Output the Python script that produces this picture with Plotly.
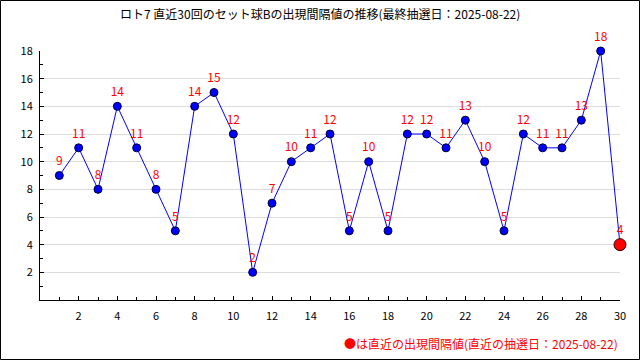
import plotly.graph_objects as go

draws = list(range(1, 31))
intervals = [9, 11, 8, 14, 11, 8, 5, 14, 15, 12, 2, 7, 10, 11, 12, 5, 10, 5, 12, 12,
             11, 13, 10, 5, 12, 11, 11, 13, 18, 4]
x_ticks = list(range(2, 31, 2))
y_ticks = list(range(2, 19, 2))
title_text = "ロト7 直近30回のセット球Bの出現間隔値の推移(最終抽選日：2025-08-22)"
note_text = "●は直近の出現間隔値(直近の抽選日：2025-08-22)"

FONT = "Noto Sans CJK JP, DejaVu Sans, sans-serif"

# plot area in pixels
L, R, T, B = 40, 620, 51, 300
W, H = 640, 360

def px(x):
    return (x - L) / (R - L)

def py(y):
    return (B - y) / (B - T)

fig = go.Figure()
fig.add_trace(go.Scatter(
    x=draws, y=intervals,
    mode="lines+markers",
    line=dict(color="#0000ff", width=1),
    marker=dict(color="#0000ff", size=8, line=dict(color="#000033", width=1)),
    cliponaxis=False,
    showlegend=False,
))
fig.add_trace(go.Scatter(
    x=[draws[-1]], y=[intervals[-1]],
    mode="markers",
    marker=dict(color="#ff0000", size=12, line=dict(color="#330000", width=1)),
    cliponaxis=False,
    showlegend=False,
))
fig.add_trace(go.Scatter(
    x=draws, y=intervals,
    mode="markers+text",
    marker=dict(size=10, opacity=0),
    text=[str(v) for v in intervals],
    textposition="top center",
    textfont=dict(color="#ff0000", size=12, family=FONT),
    cliponaxis=False,
    showlegend=False,
    hoverinfo="skip",
))

fig.update_layout(
    width=W, height=H,
    margin=dict(l=L, r=W - R, t=T, b=H - B),
    paper_bgcolor="white", plot_bgcolor="white",
    font=dict(family=FONT, size=11, color="black"),
    xaxis=dict(
        range=[0, 30], tickmode="array", tickvals=x_ticks,
        ticks="inside", ticklen=4, tickcolor="black",
        showgrid=False, zeroline=False,
        showline=True, linecolor="black", linewidth=1,
        minor=dict(dtick=1, tick0=0, ticks="inside", ticklen=3, tickcolor="black", showgrid=False),
        tickfont=dict(size=11, family=FONT, color="black"),
        ticklabelstandoff=6,
    ),
    yaxis=dict(
        range=[0, 18], tickmode="array", tickvals=y_ticks,
        ticks="inside", ticklen=4, tickcolor="black",
        showgrid=True, gridcolor="#dcdcdc", gridwidth=1, zeroline=False,
        showline=True, linecolor="black", linewidth=1,
        minor=dict(dtick=1, tick0=0, ticks="inside", ticklen=3, tickcolor="black", showgrid=False),
        tickfont=dict(size=11, family=FONT, color="black"),
        ticklabelstandoff=4,
    ),
    annotations=[
        dict(text=title_text, xref="paper", yref="paper", x=px(320), y=py(13),
             xanchor="center", yanchor="middle", showarrow=False,
             font=dict(size=12, family=FONT, color="black")),
        dict(text=note_text, xref="paper", yref="paper", x=px(620), y=py(343),
             xanchor="right", yanchor="middle", showarrow=False,
             font=dict(size=12, family=FONT, color="#ff0000")),
    ],
    shapes=[
        dict(type="rect", xref="paper", yref="paper",
             x0=px(0.5), x1=px(639.5), y0=py(359.5), y1=py(0.5),
             line=dict(color="black", width=1), fillcolor="rgba(0,0,0,0)", layer="above"),
    ],
)

fig.write_html("out.html", config={"displayModeBar": False},
               post_script="document.body.style.margin='0';")
